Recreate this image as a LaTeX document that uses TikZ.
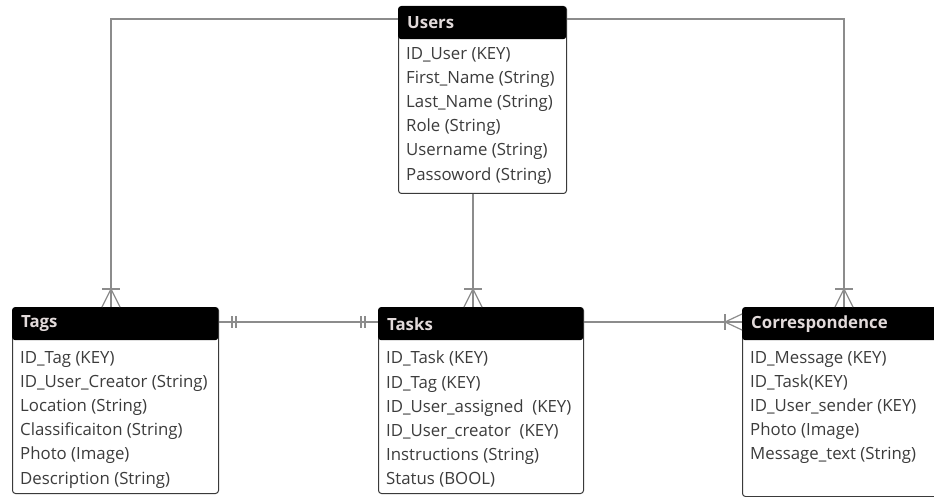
\documentclass[tikz,border=0pt]{standalone}
\usepackage{fontspec}
\setmainfont{Open Sans}
\usetikzlibrary{positioning}
\definecolor{linegray}{HTML}{8C8C8C}
\definecolor{boxgray}{HTML}{3A3A3A}
\definecolor{fieldtext}{HTML}{3C3C3C}
\definecolor{headtext}{HTML}{E2DADA}
\tikzstyle{entity} = [draw=boxgray, fill=white, line width=1pt,
    rectangle, rounded corners=3pt, inner sep=0pt, anchor=north west]
\tikzstyle{enthead} = [fill=black, rectangle, rounded corners=3pt,
    inner xsep=9pt, inner ysep=0pt, minimum height=33pt, anchor=north west,
    text=headtext, font=\fontsize{16.8}{19}\selectfont\bfseries]
\tikzstyle{fields} = [inner sep=0pt, anchor=north west, align=left,
    text=fieldtext, font=\fontsize{16.8}{24.2}\selectfont]
\tikzstyle{conn} = [draw=linegray, line width=1.5pt]
\tikzset{
  manytop/.pic={
    \draw[conn, line width=1.2pt] (-9,-18) -- (9,-18);
    \draw[conn, line width=1.2pt] (-9,0) -- (0,-18) -- (9,0);
  },
  manyleft/.pic={
    \draw[conn, line width=1.2pt] (-17,-8) -- (-17,8);
    \draw[conn, line width=1.2pt] (0,-8) -- (-17,0) -- (0,8);
  },
  oneright/.pic={
    \draw[conn, line width=1.2pt] (13,-6) -- (13,6) (17,-6) -- (17,6);
  },
  oneleft/.pic={
    \draw[conn, line width=1.2pt] (-13,-6) -- (-13,6) (-17,-6) -- (-17,6);
  }
}

\begin{document}
\begin{tikzpicture}[x=1pt, y=-1pt]
    \clip (0,0) rectangle (934,497);
    % entities
    \node[entity, minimum width=168pt, minimum height=187pt] (users) at (398,6) {};
    \node[enthead, text width=150pt] (usersHead) at (users.north west) {Users};
    \node[fields] (usersFields) at ([shift={(8pt,-41pt)}]users.north west)
        {ID\_User (KEY)\\First\_Name (String)\\Last\_Name (String)\\Role (String)\\Username (String)\\Passoword (String)};

    \node[entity, minimum width=206pt, minimum height=186pt] (tags) at (12,307) {};
    \node[enthead, text width=188pt] (tagsHead) at (tags.north west) {Tags};
    \node[fields] (tagsFields) at ([shift={(8pt,-44pt)}]tags.north west)
        {ID\_Tag (KEY)\\ID\_User\_Creator (String)\\Location (String)\\Classificaiton (String)\\Photo (Image)\\Description (String)};

    \node[entity, minimum width=205pt, minimum height=186pt] (tasks) at (378,307) {};
    \node[enthead, text width=187pt] (tasksHead) at (tasks.north west) {Tasks};
    \node[fields] (tasksFields) at ([shift={(8pt,-44pt)}]tasks.north west)
        {ID\_Task (KEY)\\ID\_Tag (KEY)\\ID\_User\_assigned~~(KEY)\\ID\_User\_creator~~(KEY)\\Instructions (String)\\Status (BOOL)};

    \node[entity, minimum width=210pt, minimum height=189pt] (corr) at (742,307) {};
    \node[enthead, text width=192pt] (corrHead) at (corr.north west) {Correspondence};
    \node[fields] (corrFields) at ([shift={(8pt,-44pt)}]corr.north west)
        {ID\_Message (KEY)\\ID\_Task(KEY)\\ID\_User\_sender (KEY)\\Photo (Image)\\Message\_text (String)};

    % relations
    \draw[conn] ([yshift=-13pt]users.north west) -| ([xshift=99pt]tags.north west);
    \draw[conn] ([yshift=-13pt]users.north east) -| ([xshift=102pt]corr.north west);
    \draw[conn] ([xshift=75pt]users.south west) -- ([xshift=95pt]tasks.north west);
    \draw[conn] ([yshift=-15pt]tags.north east) -- ([yshift=-15pt]tasks.north west);
    \draw[conn] ([yshift=-15pt]tasks.north east) -- ([yshift=-15pt]corr.north west);

    \pic at ([xshift=99pt]tags.north west) {manytop};
    \pic at ([xshift=95pt]tasks.north west) {manytop};
    \pic at ([xshift=102pt]corr.north west) {manytop};
    \pic at ([yshift=-15pt]corr.north west) {manyleft};
    \pic at ([yshift=-15pt]tags.north east) {oneright};
    \pic at ([yshift=-15pt]tasks.north west) {oneleft};
\end{tikzpicture}
\end{document}
